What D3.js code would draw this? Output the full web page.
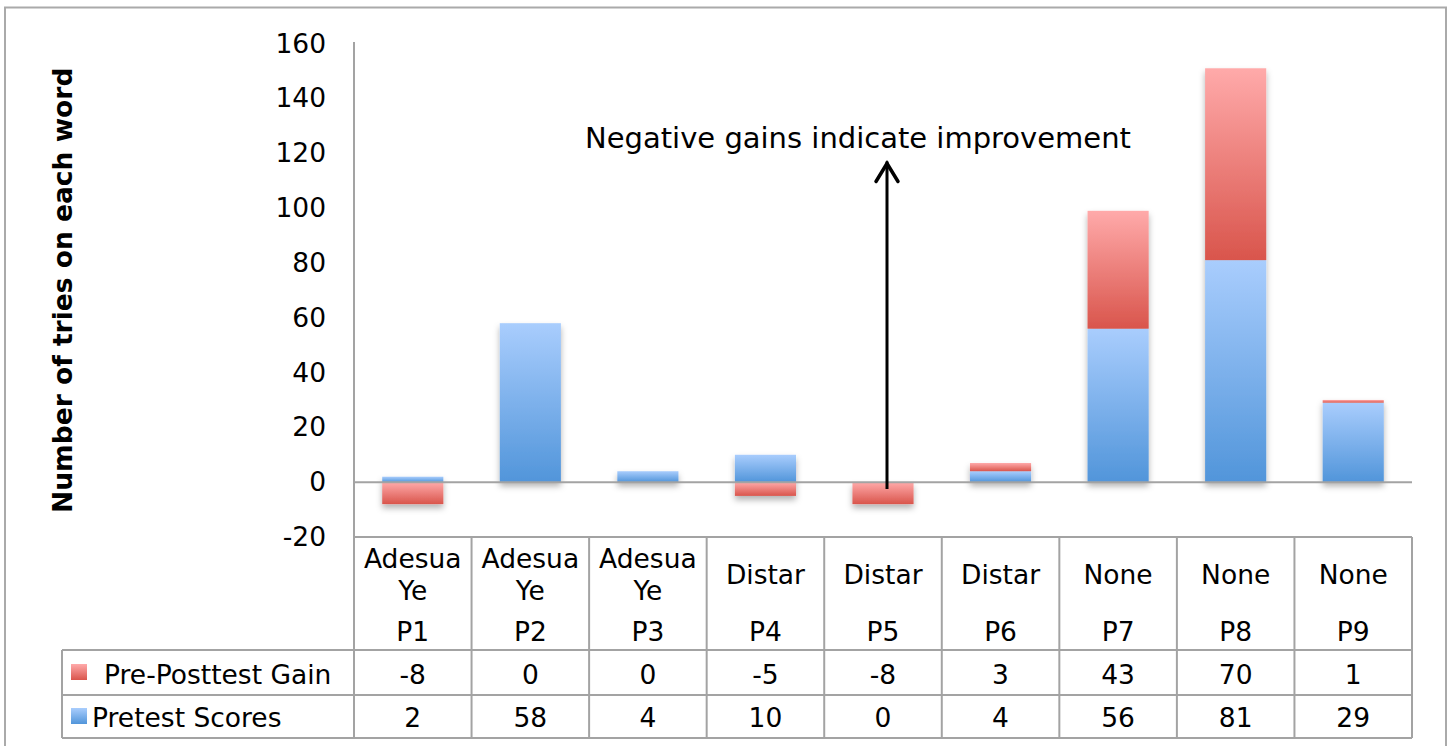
<!DOCTYPE html>
<html><head><meta charset="utf-8">
<script src="https://cdn.jsdelivr.net/npm/d3@7"></script>
<style>body{margin:0;background:#fff;font-family:"DejaVu Sans",Verdana,sans-serif}</style>
</head><body>
<svg id="c" width="1451" height="746"></svg>
<script>
const participants = ["P1","P2","P3","P4","P5","P6","P7","P8","P9"];
const programs = [["Adesua","Ye"],["Adesua","Ye"],["Adesua","Ye"],["Distar"],["Distar"],["Distar"],["None"],["None"],["None"]];
const pretest = [2,58,4,10,0,4,56,81,29];
const gain = [-8,0,0,-5,-8,3,43,70,1];
const seriesNames = ["Pre-Posttest Gain","Pretest Scores"];
const yTicks = [-20,0,20,40,60,80,100,120,140,160];
const annotation = "Negative gains indicate improvement";

const svg = d3.select("#c");
const font = "DejaVu Sans, Verdana, sans-serif";
const gridCol = "#a3a3a3";
const FS = 26.5;

const L = 354, R = 1412, T = 43.6, B = 537;
const x = d3.scaleBand().domain(participants).range([L, R]).paddingInner(0.48).paddingOuter(0.24);
const xc = d3.scaleBand().domain(participants).range([L, R]);
const y = d3.scaleLinear().domain([-20, 160]).range([B, T]);

// outer border
svg.append("rect").attr("x",5).attr("y",7.5).attr("width",1441).attr("height",760)
  .attr("fill","none").attr("stroke","#aaaaaa").attr("stroke-width",2);

const defs = svg.append("defs");
function grad(id, top, bot){
  const g = defs.append("linearGradient").attr("id",id).attr("x1",0).attr("y1",0).attr("x2",0).attr("y2",1);
  g.append("stop").attr("offset","0%").attr("stop-color",top);
  g.append("stop").attr("offset","100%").attr("stop-color",bot);
}
grad("gBlue","#a9cdfd","#5195da");
grad("gRed","#ffaaaa","#d9554c");
const f = defs.append("filter").attr("id","sh").attr("x","-20%").attr("y","-20%").attr("width","140%").attr("height","160%");
f.append("feDropShadow").attr("dx",0).attr("dy",4).attr("stdDeviation",3).attr("flood-color","#000").attr("flood-opacity",0.3);

// data rows
const rows = participants.map((p,i)=>({p, pretest: pretest[i], gain: gain[i]}));
const stack = d3.stack().keys(["pretest","gain"]).offset(d3.stackOffsetDiverging);
const layers = stack(rows);
const fills = {pretest:"url(#gBlue)", gain:"url(#gRed)"};

const barsG = svg.append("g").attr("filter","url(#sh)");
layers.forEach(layer=>{
  barsG.selectAll(null).data(layer.filter(d=>d[1]!==d[0])).join("rect")
    .attr("x", d=>x(d.data.p))
    .attr("width", x.bandwidth())
    .attr("y", d=>y(Math.max(d[0],d[1])))
    .attr("height", d=>Math.abs(y(d[0])-y(d[1])))
    .attr("fill", fills[layer.key]);
});

// zero line
svg.append("line").attr("x1",L).attr("x2",R).attr("y1",y(0)).attr("y2",y(0))
  .attr("stroke",gridCol).attr("stroke-width",2);

// y axis
const yAxis = d3.axisLeft(y).tickValues(yTicks).tickSize(0).tickPadding(28).tickFormat(d=>String(d));
const ya = svg.append("g").attr("transform",`translate(${L},0)`).call(yAxis);
ya.select(".domain").remove();
ya.selectAll("text").attr("font-family",font).attr("font-size",FS).attr("fill","#000");
svg.append("line").attr("x1",L).attr("x2",L).attr("y1",T-1.5).attr("y2",738)
  .attr("stroke",gridCol).attr("stroke-width",2);

// y title
svg.append("text").attr("transform",`translate(72,${(T+B)/2}) rotate(-90)`)
  .attr("text-anchor","middle").attr("font-family",font).attr("font-weight","bold")
  .attr("font-size",26.5).text("Number of tries on each word");

// table
const tbl = svg.append("g");
tbl.append("line").attr("x1",L).attr("x2",R).attr("y1",B).attr("y2",B).attr("stroke",gridCol).attr("stroke-width",2);
[650,695,738].forEach(yy=>{
  tbl.append("line").attr("x1",62).attr("x2",R).attr("y1",yy).attr("y2",yy).attr("stroke",gridCol).attr("stroke-width",2);
});
participants.forEach(p=>{
  tbl.append("line").attr("x1",xc(p)+xc.bandwidth()).attr("x2",xc(p)+xc.bandwidth())
    .attr("y1",B).attr("y2",738).attr("stroke",gridCol).attr("stroke-width",2);
});
tbl.append("line").attr("x1",62).attr("x2",62).attr("y1",650).attr("y2",738).attr("stroke",gridCol).attr("stroke-width",2);

participants.forEach((p,i)=>{
  const cx = xc(p)+xc.bandwidth()/2;
  const lines = programs[i];
  const t = tbl.append("text").attr("text-anchor","middle").attr("font-family",font).attr("font-size",FS);
  if(lines.length===2){
    t.append("tspan").attr("x",cx).attr("y",568).text(lines[0]);
    t.append("tspan").attr("x",cx).attr("y",600).text(lines[1]);
  } else {
    t.append("tspan").attr("x",cx).attr("y",584).text(lines[0]);
  }
  tbl.append("text").attr("x",cx).attr("y",641).attr("text-anchor","middle").attr("font-family",font).attr("font-size",FS).text(p);
  tbl.append("text").attr("x",cx).attr("y",684).attr("text-anchor","middle").attr("font-family",font).attr("font-size",FS).text(gain[i]);
  tbl.append("text").attr("x",cx).attr("y",727).attr("text-anchor","middle").attr("font-family",font).attr("font-size",FS).text(pretest[i]);
});

// legend cells
tbl.append("rect").attr("x",71).attr("y",664).attr("width",16).attr("height",16).attr("fill","url(#gRed)");
tbl.append("text").attr("x",104).attr("y",684).attr("font-family",font).attr("font-size",FS).text(seriesNames[0]);
tbl.append("rect").attr("x",71).attr("y",708).attr("width",16).attr("height",16).attr("fill","url(#gBlue)");
tbl.append("text").attr("x",92).attr("y",727).attr("font-family",font).attr("font-size",FS).text(seriesNames[1]);

// annotation
const ax = xc("P5")+xc.bandwidth()/2+4;
svg.append("line").attr("x1",ax).attr("x2",ax).attr("y1",y(-2.5)).attr("y2",y(117))
  .attr("stroke","#000").attr("stroke-width",3);
svg.append("path").attr("d",`M${ax-11},${y(117)+20} L${ax},${y(117)+2} L${ax+11},${y(117)+20}`)
  .attr("fill","none").attr("stroke","#000").attr("stroke-width",3.5).attr("stroke-linecap","round").attr("stroke-linejoin","miter");
svg.append("text").attr("x",858).attr("y",148).attr("text-anchor","middle").attr("font-family",font)
  .attr("font-size",29).text(annotation);
</script>
</body></html>
